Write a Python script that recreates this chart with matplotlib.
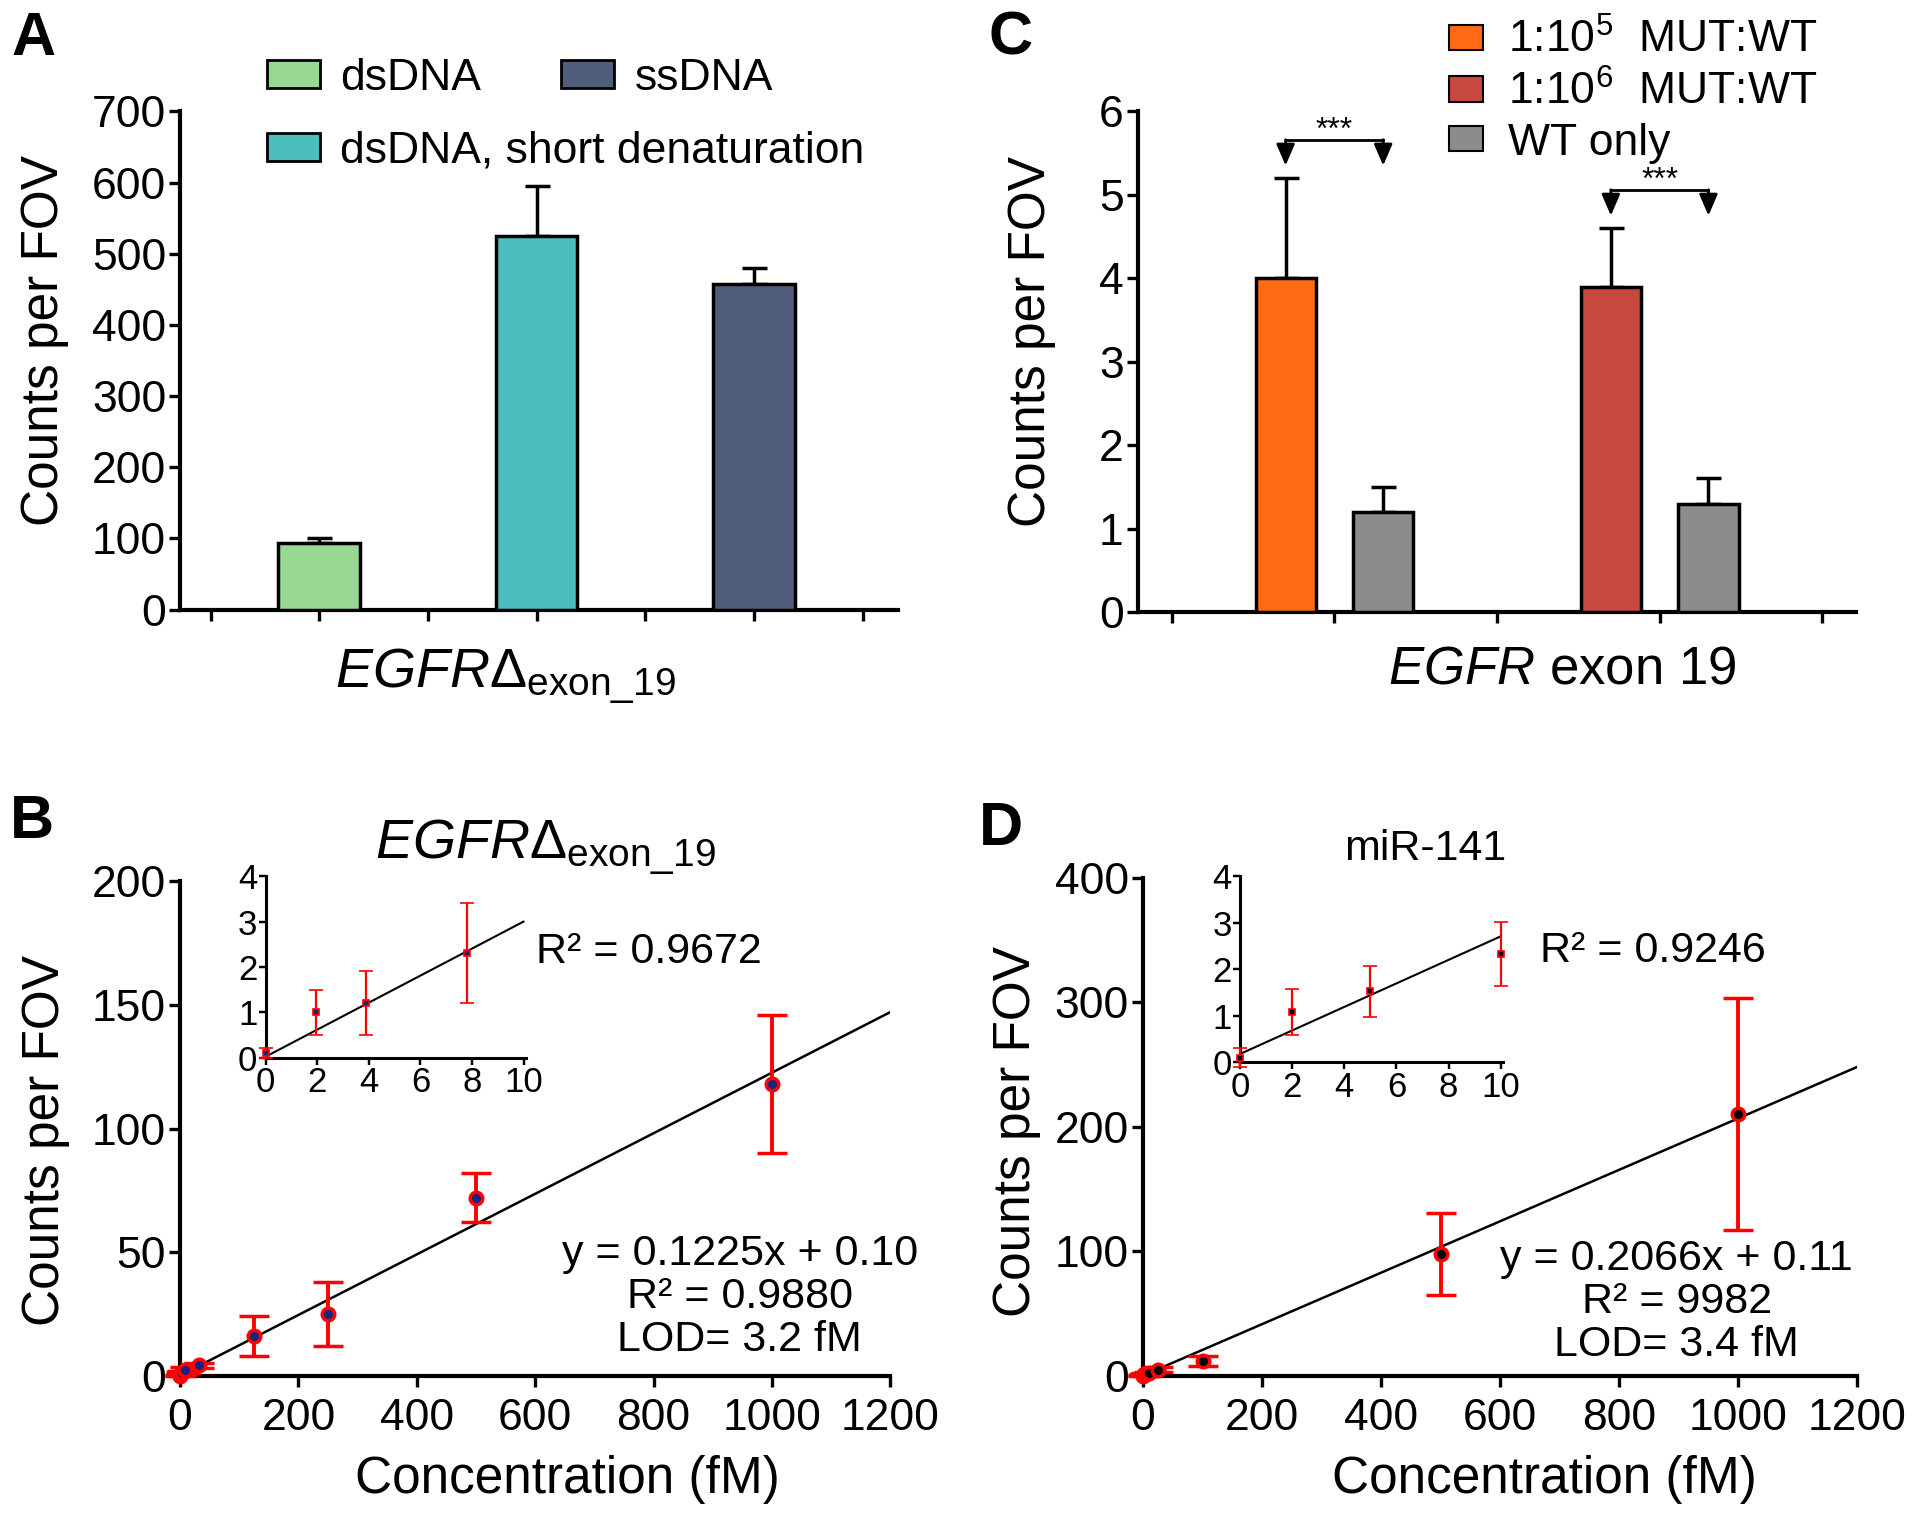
import numpy as np
import matplotlib.pyplot as plt
from matplotlib.patches import Patch

plt.rcParams['font.family'] = ['Liberation Sans', 'DejaVu Sans']
plt.rcParams['mathtext.fontset'] = 'custom'
plt.rcParams['mathtext.rm'] = 'Liberation Sans'
plt.rcParams['mathtext.it'] = 'Liberation Sans:italic'
plt.rcParams['mathtext.bf'] = 'Liberation Sans:bold'

#Panel A data
a_labels = ['dsDNA', 'dsDNA, short denaturation', 'ssDNA']
a_pos = [2, 4, 6]
a_vals = [93, 525, 458]
a_err = [7, 70, 22]
a_colors = ['#98D894', '#4BBFBE', '#515E7B']

#Panel C data
c_labels = ['1:10$^5$  MUT:WT', '1:10$^6$  MUT:WT', 'WT only']
c_pos = [0.7, 1.3, 2.7, 3.3]
c_vals = [4.0, 1.2, 3.9, 1.3]
c_err = [1.2, 0.3, 0.7, 0.3]
c_colors = ['#FF6A13', '#8C8C8C', '#C8473F', '#8C8C8C']
c_pairs = [(0, 1), (2, 3)]

#Panel B data (EGFR calibration)
b_x = [0, 1.95, 3.9, 7.8, 31.25, 125, 250, 500, 1000]
b_y = [0.1, 1.0, 1.2, 2.3, 4.2, 16, 25, 72, 118]
b_err = [0.1, 0.5, 0.7, 1.1, 1.0, 8, 13, 10, 28]
b_fit = (0.1225, 0.10)
b_in_fit = (0.298, 0.02)

#Panel D data (miR-141 calibration)
d_x = [0, 2, 5, 10, 25, 100, 500, 1000]
d_y = [0.1, 1.08, 1.53, 2.33, 5, 12, 98, 210]
d_err = [0.2, 0.5, 0.55, 0.68, 2, 4, 33, 93]
d_fit = (0.2066, 0.11)
d_in_fit = (0.253, 0.18)

TICK = 32
LAB = 37
LEG = 32

fig = plt.figure(figsize=(19.2, 15.19), dpi=100)


def style_axis(ax, lw=3, length=8, size=TICK, pad=2):
    for s in ['top', 'right']:
        ax.spines[s].set_visible(False)
    for s in ['left', 'bottom']:
        ax.spines[s].set_linewidth(lw)
    ax.tick_params(direction='out', length=length, width=lw * 0.8,
                   labelsize=size, pad=pad)


#---------- A ----------
axA = fig.add_axes([0.0938, 0.5987, 0.3737, 0.328])
axA.bar(a_pos, a_vals, width=0.75, color=a_colors, edgecolor='black',
        linewidth=2.5, zorder=3)
axA.errorbar(a_pos, a_vals, yerr=[np.zeros(len(a_err)), a_err], fmt='none',
             ecolor='black', elinewidth=2.5, capsize=9, capthick=2.5, zorder=2)
axA.set_xlim(0.72, 7.32)
axA.set_ylim(0, 700)
axA.set_yticks(range(0, 701, 100))
axA.set_xticks(range(1, 8))
axA.set_xticklabels([])
style_axis(axA)
axA.set_ylabel('Counts per FOV', fontsize=LAB)
axA.yaxis.set_label_coords(-0.155, 0.54)
axA.set_xlabel(r'$\mathit{EGFR\Delta}_{\mathrm{exon\_19}}$', fontsize=40)
axA.xaxis.set_label_coords(0.454, -0.075)

hA = [Patch(facecolor=c, edgecolor='black', linewidth=2) for c in a_colors]
leg1 = axA.legend([hA[0], hA[2]], [a_labels[0], a_labels[2]], ncol=2,
                  loc='center left', bbox_to_anchor=(0.121, 1.066),
                  frameon=False, fontsize=LEG, handlelength=1.2,
                  handleheight=0.6, handletextpad=0.45, columnspacing=1.8,
                  borderpad=0, borderaxespad=0)
axA.add_artist(leg1)
axA.legend([hA[1]], [a_labels[1]], loc='center left',
           bbox_to_anchor=(0.121, 0.92), frameon=False, fontsize=LEG,
           handlelength=1.2, handleheight=0.6, handletextpad=0.45,
           borderpad=0, borderaxespad=0)

#---------- C ----------
axC = fig.add_axes([0.5925, 0.5971, 0.3744, 0.3296])
axC.bar(c_pos, c_vals, width=0.37, color=c_colors, edgecolor='black',
        linewidth=2.5, zorder=3)
axC.errorbar(c_pos, c_vals, yerr=[np.zeros(len(c_err)), c_err], fmt='none',
             ecolor='black', elinewidth=2.5, capsize=9, capthick=2.5, zorder=2)
axC.set_xlim(-0.21, 4.21)
axC.set_ylim(0, 6)
axC.set_yticks(range(0, 7))
axC.set_xticks(range(0, 5))
axC.set_xticklabels([])
style_axis(axC)
axC.set_ylabel('Counts per FOV', fontsize=LAB)
axC.yaxis.set_label_coords(-0.114, 0.54)
axC.set_xlabel(r'$\mathit{EGFR}$ exon 19', fontsize=38)
axC.xaxis.set_label_coords(0.59, -0.065)

#significance brackets
for i, j in c_pairs:
    top = max(c_vals[i] + c_err[i], c_vals[j] + c_err[j])
    tip = top + 0.15
    line = top + 0.46
    axC.plot([c_pos[i], c_pos[j]], [line, line], color='black', lw=2)
    for k in (i, j):
        axC.annotate('', xy=(c_pos[k], tip), xytext=(c_pos[k], line),
                     arrowprops=dict(arrowstyle='-|>,head_width=0.28,head_length=0.65',
                                     color='black', lw=2, mutation_scale=20,
                                     shrinkA=0, shrinkB=0))
    axC.text((c_pos[i] + c_pos[j]) / 2, line + 0.11, '***', ha='center',
             va='center', fontsize=23)

hC = [Patch(facecolor=c, edgecolor='black', linewidth=1.5)
      for c in [c_colors[0], c_colors[2], c_colors[1]]]
axC.legend(hC, c_labels, loc='upper left', bbox_to_anchor=(0.433, 1.185),
           frameon=False, fontsize=LEG, handlelength=0.77, handleheight=0.49,
           handletextpad=0.55, labelspacing=0.2, borderpad=0, borderaxespad=0)


#---------- B and D ----------
def calib(rect, inset_rect, x, y, err, fit, in_fit, ylim, yticks, in_xmax,
          dot, title, title_xy, title_size, eq, eq_xy, r2_in, r2_xy, lab_x):
    ax = fig.add_axes(rect)
    xs = np.array([0, 1200])
    ax.plot(xs, fit[0] * xs + fit[1], color='black', lw=1.8, zorder=2)
    ax.errorbar(x, y, yerr=err, fmt='o', color='red', ecolor='red',
                markersize=9, markerfacecolor=dot, markeredgecolor='red',
                markeredgewidth=2.5, elinewidth=2.8, capsize=11, capthick=2.8,
                zorder=3, clip_on=False)
    ax.set_xlim(0, 1200)
    ax.set_ylim(*ylim)
    ax.set_xticks(range(0, 1201, 200))
    ax.set_yticks(yticks)
    style_axis(ax)
    ax.tick_params(axis='x', pad=8)
    ax.set_xlabel('Concentration (fM)', fontsize=LAB)
    ax.xaxis.set_label_coords(lab_x, -0.16)
    ax.set_ylabel('Counts per FOV', fontsize=LAB)
    ax.text(title_xy[0], title_xy[1], title, transform=ax.transAxes,
            ha='center', va='baseline', fontsize=title_size)
    ax.text(eq_xy[0], eq_xy[1], eq, transform=ax.transAxes, ha='center',
            va='center', fontsize=31, linespacing=1.1)

    ins = fig.add_axes(inset_rect)
    xi = np.array([0, in_xmax])
    ins.plot(xi, in_fit[0] * xi + in_fit[1], color='black', lw=1.5, zorder=2)
    sel = [k for k in range(len(x)) if x[k] <= 10]
    ins.errorbar([x[k] for k in sel], [y[k] for k in sel],
                 yerr=[err[k] for k in sel], fmt='s', color='red',
                 markersize=5, markerfacecolor=dot, markeredgecolor='red',
                 markeredgewidth=1.2, elinewidth=1.6, capsize=5, capthick=1.6,
                 zorder=3, clip_on=False)
    ins.set_xlim(0, 10.1)
    ins.set_ylim(0, 4)
    ins.set_xticks(range(0, 11, 2))
    ins.set_yticks(range(0, 5))
    style_axis(ins, lw=2.2, length=5, size=25, pad=1)
    fig.text(r2_xy[0], r2_xy[1], r2_in, ha='left', va='center', fontsize=31)
    return ax


axB = calib([0.0938, 0.0943, 0.3699, 0.3255], [0.1384, 0.3038, 0.1356, 0.1193],
            b_x, b_y, b_err, b_fit, b_in_fit, (0, 200), range(0, 201, 50), 10,
            '#1A237E', r'$\mathit{EGFR\Delta}_{\mathrm{exon\_19}}$',
            (0.514, 1.044), 40,
            'y = 0.1225x + 0.10\nR² = 0.9880\nLOD= 3.2 fM', (0.788, 0.16),
            'R² = 0.9672', (0.279, 0.373), 0.545)
axB.yaxis.set_label_coords(-0.155, 0.476)

axD = calib([0.5953, 0.0943, 0.3721, 0.328], [0.6458, 0.3006, 0.1372, 0.1225],
            d_x, d_y, d_err, d_fit, d_in_fit, (0, 400), range(0, 401, 100), 10,
            'black', 'miR-141', (0.395, 1.035), 31,
            'y = 0.2066x + 0.11\nR² = 9982\nLOD= 3.4 fM', (0.747, 0.148),
            'R² = 0.9246', (0.802, 0.374), 0.562)
axD.yaxis.set_label_coords(-0.143, 0.49)

#panel letters
for lab, xy in zip(['A', 'B', 'C', 'D'],
                   [(0.006, 0.993), (0.005, 0.477), (0.515, 0.993), (0.51, 0.473)]):
    fig.text(xy[0], xy[1], lab, fontsize=44, fontweight='bold', ha='left', va='top')

fig.savefig('out.png', dpi=100)
